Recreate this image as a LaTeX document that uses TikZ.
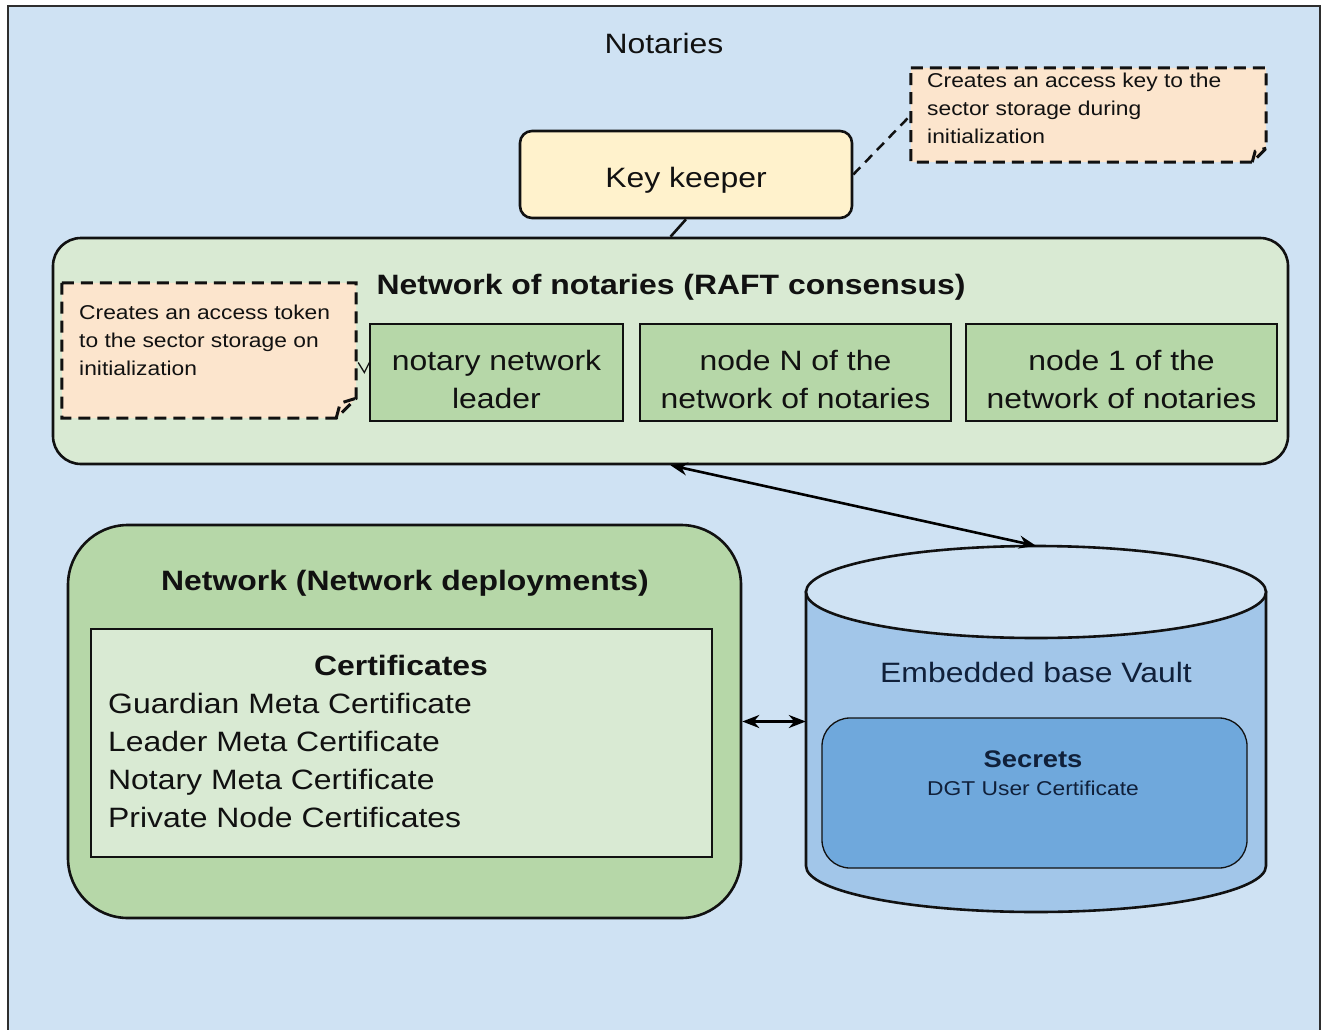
\documentclass[tikz,border=0pt]{standalone}
\usepackage{fontspec}
\setmainfont{Liberation Sans}[FakeStretch=1.14]
\usetikzlibrary{arrows.meta,calc}

\definecolor{skyback}{HTML}{CFE2F3}
\definecolor{frameink}{HTML}{2E2E2E}
\definecolor{keyfill}{HTML}{FFF2CC}
\definecolor{notefill}{HTML}{FCE5CD}
\definecolor{palegreen}{HTML}{D9EAD3}
\definecolor{midgreen}{HTML}{B6D7A8}
\definecolor{vaultbody}{HTML}{A2C6E9}
\definecolor{vaulttop}{HTML}{CFE2F3}
\definecolor{secretfill}{HTML}{6FA8DC}
\definecolor{inkdark}{HTML}{111111}
\definecolor{navyink}{HTML}{10203A}

\newcommand{\bigtxt}{\fontsize{28}{38}\selectfont}
\newcommand{\smalltxt}{\fontsize{20}{28}\selectfont}
\newcommand{\midtxt}{\fontsize{24}{30}\selectfont}

\tikzset{
  thickline/.style={line width=2.6pt, draw=inkdark},
  keybox/.style={thickline, fill=keyfill, rounded corners=12pt, font=\bigtxt, text=inkdark,
    minimum width=332pt, minimum height=87pt, text height=25pt, text depth=0pt},
  noteshape/.style={draw=none, fill=none, inner sep=0pt},
  noteline/.style={draw=inkdark, line width=3pt, dash pattern=on 12pt off 7pt},
  notetext/.style={font=\smalltxt, align=left, anchor=north west, inner sep=0pt, text=inkdark},
  notelink/.style={draw=inkdark, line width=2.5pt, dash pattern=on 10pt off 7pt},
  groupbox/.style={thickline, inner sep=0pt},
  member/.style={draw=inkdark, line width=1.3pt, fill=midgreen, font=\bigtxt, align=center,
    minimum height=97pt, inner sep=0pt, text=inkdark},
  heading/.style={font=\bigtxt\bfseries, text=inkdark, inner sep=0pt, text height=20pt, text depth=6pt},
  plain/.style={font=\bigtxt, text=inkdark, inner sep=0pt, text height=20pt, text depth=6pt},
  twoway/.style={line width=2.6pt, draw=black,
    {Stealth[length=17pt,width=13pt]}-{Stealth[length=17pt,width=13pt]}},
}
% taller first line so two-line member labels sit a little lower in their boxes
\newcommand{\lowstrut}{\rule{0pt}{34pt}}

\begin{document}
\begin{tikzpicture}[x=1pt,y=-1pt]
\useasboundingbox (0,0) rectangle (1327,1030);
% page and outer frame (open at the bottom)
\fill[white] (0,0) rectangle (1327,1030);
\fill[skyback] (8,6) rectangle (1320,1030);
\draw[frameink, line width=2pt] (8,1030) -- (8,6) -- (1320,6) -- (1320,1030);

\node[plain] (hdr) at (664,47) {Notaries};

% key keeper and its note
\node[keybox] (kk) at (686,174.5) {Key keeper};

\node[noteshape, minimum width=355pt, minimum height=94pt] (n1) at (1088.5,115) {};
\filldraw[fill=notefill, noteline]
  (n1.north west) -- (n1.north east) -- ($(n1.south east)+(0,-14)$)
  -- ($(n1.south east)+(-14,0)$) -- (n1.south west) -- cycle;
\draw[noteline] ($(n1.south east)+(-14,0)$) -- ($(n1.south east)+(-11,-11)$) -- ($(n1.south east)+(0,-14)$);
\node[notetext] (n1txt) at (927,72.5) {Creates an access key to the\\sector storage during\\initialization};
\draw[notelink] (kk.east) -- (n1.west);

% network of notaries
\node[groupbox, fill=palegreen, rounded corners=28pt, minimum width=1235pt, minimum height=226pt] (net) at (670.5,351) {};
\draw[thickline] (kk.south) -- (net.north);
\node[heading] (nettitle) at (671,287) {Network of notaries (RAFT consensus)};

\node[member, minimum width=253pt] (leader) at (496.5,372.5) {\lowstrut notary network\\leader};
\node[member, minimum width=311pt] (nodeN) at (795.5,372.5) {\lowstrut node N of the\\network of notaries};
\node[member, minimum width=311pt] (node1) at (1121.5,372.5) {\lowstrut node 1 of the\\network of notaries};

\node[noteshape, minimum width=294pt, minimum height=135pt] (n2) at (209,350.5) {};
\filldraw[fill=notefill, noteline]
  (n2.north west) -- (n2.north east) -- ($(n2.south east)+(0,-20)$)
  -- ($(n2.south east)+(-20,0)$) -- (n2.south west) -- cycle;
\draw[noteline] ($(n2.south east)+(-20,0)$) -- ($(n2.south east)+(-16,-15)$) -- ($(n2.south east)+(0,-20)$);
\node[notetext] (n2txt) at (79,304.5) {Creates an access token\\to the sector storage on\\initialization};
\draw[draw=inkdark, line width=1.3pt] ($(n2.east)+(2,12)$) -- ($(leader.west)+(-5,0)$) -- ($(leader.west)+(0,-10)$);

% network deployments
\node[groupbox, fill=midgreen, rounded corners=60pt, minimum width=673pt, minimum height=393pt] (dep) at (404.5,721.5) {};
\node[heading] (deptitle) at (405,583) {Network (Network deployments)};
\node[groupbox, fill=palegreen, minimum width=621pt, minimum height=228pt] (cert) at (401.5,743) {};
\node[heading] (certtitle) at (401,668) {Certificates};
\node[font=\bigtxt, text=inkdark, align=left, anchor=north west, inner sep=0pt] (certlist) at (108,693)
  {Guardian Meta Certificate\\Leader Meta Certificate\\Notary Meta Certificate\\Private Node Certificates};

% vault cylinder
\node[noteshape, minimum width=460pt, minimum height=366pt] (vault) at (1036,729) {};
\filldraw[fill=vaultbody, thickline]
  (806,592) -- (806,866) arc[start angle=180, end angle=0, x radius=230, y radius=46] -- (1266,592) -- cycle;
\filldraw[fill=vaulttop, thickline] (1036,592) ellipse[x radius=230, y radius=46];
\node[plain, text=navyink] (vaultlbl) at (1036,675) {Embedded base Vault};

\node[draw=inkdark, line width=1.3pt, fill=secretfill, rounded corners=28pt,
  minimum width=425pt, minimum height=150pt, inner sep=0pt] (sec) at (1034.5,793) {};
\node[font=\midtxt\bfseries, text=navyink, inner sep=0pt, text height=17pt, text depth=5pt] (sectitle) at (1033,761) {Secrets};
\node[font=\smalltxt, text=navyink, inner sep=0pt, text height=14pt, text depth=4pt] (secbody) at (1033,790) {DGT User Certificate};

% links
\draw[twoway] (net.south) -- (vault.north);
\draw[twoway] (dep.east) -- (dep.east -| vault.west);
\end{tikzpicture}
\end{document}
